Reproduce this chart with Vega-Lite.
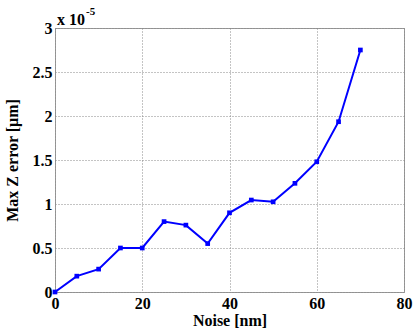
{
  "$schema": "https://vega.github.io/schema/vega-lite/v6.json",
  "width": 349,
  "height": 264,
  "autosize": {"type": "none"},
  "padding": {"left": 55, "top": 28, "right": 9, "bottom": 37},
  "background": "white",
  "config": {
    "font": "Liberation Serif",
    "view": {"stroke": "#999999", "strokeWidth": 1},
    "axis": {
      "labelFont": "Liberation Serif",
      "labelFontWeight": "bold",
      "labelFontSize": 16,
      "labelColor": "black",
      "titleFont": "Liberation Serif",
      "titleFontWeight": "bold",
      "titleFontSize": 16,
      "titleColor": "black",
      "grid": true,
      "gridColor": "#888888",
      "gridDash": [1, 2],
      "gridWidth": 1,
      "domain": false,
      "ticks": false,
      "labelOverlap": false,
      "labelFlush": false
    }
  },
  "data": {
    "values": [
      {"noise": 0, "err": 0},
      {"noise": 5, "err": 0.18},
      {"noise": 10, "err": 0.26},
      {"noise": 15, "err": 0.5},
      {"noise": 20, "err": 0.5},
      {"noise": 25, "err": 0.8},
      {"noise": 30, "err": 0.76},
      {"noise": 35, "err": 0.55},
      {"noise": 40, "err": 0.9},
      {"noise": 45, "err": 1.045},
      {"noise": 50, "err": 1.025},
      {"noise": 55, "err": 1.235},
      {"noise": 60, "err": 1.48},
      {"noise": 65, "err": 1.935},
      {"noise": 70, "err": 2.75}
    ]
  },
  "layer": [
    {
      "mark": {"type": "line", "color": "#0000FF", "strokeWidth": 2},
      "encoding": {
        "x": {
          "field": "noise", "type": "quantitative",
          "scale": {"domain": [0, 80], "nice": false},
          "axis": {"values": [0, 20, 40, 60, 80], "title": "Noise [nm]", "labelPadding": 3, "titlePadding": 1}
        },
        "y": {
          "field": "err", "type": "quantitative",
          "scale": {"domain": [0, 3], "nice": false},
          "axis": {"values": [0, 0.5, 1, 1.5, 2, 2.5, 3], "format": "~g", "title": "Max Z error [μm]", "labelPadding": 3, "titlePadding": 12}
        }
      }
    },
    {
      "mark": {"type": "point", "shape": "square", "filled": true, "color": "#0000FF", "size": 22, "opacity": 1},
      "encoding": {
        "x": {"field": "noise", "type": "quantitative"},
        "y": {"field": "err", "type": "quantitative"}
      }
    },
    {
      "data": {"values": [{"x": 0, "y": 3, "t": "x 10"}]},
      "mark": {"type": "text", "align": "left", "baseline": "alphabetic", "dx": 2, "dy": -3, "font": "Liberation Serif", "fontWeight": "bold", "fontSize": 16, "color": "black"},
      "encoding": {
        "x": {"field": "x", "type": "quantitative"},
        "y": {"field": "y", "type": "quantitative"},
        "text": {"field": "t"}
      }
    },
    {
      "data": {"values": [{"x": 0, "y": 3, "t": "-5"}]},
      "mark": {"type": "text", "align": "left", "baseline": "alphabetic", "dx": 31, "dy": -13, "font": "Liberation Serif", "fontWeight": "bold", "fontSize": 11, "color": "black"},
      "encoding": {
        "x": {"field": "x", "type": "quantitative"},
        "y": {"field": "y", "type": "quantitative"},
        "text": {"field": "t"}
      }
    }
  ]
}
